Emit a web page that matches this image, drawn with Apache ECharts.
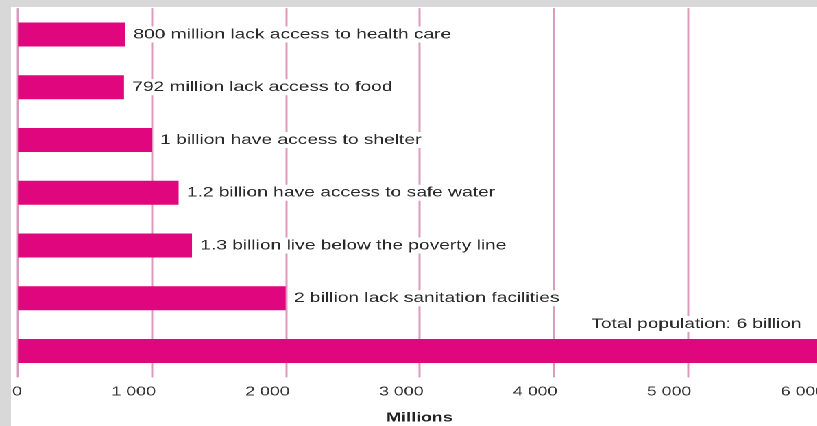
<!DOCTYPE html>
<html>
<head>
<meta charset="utf-8">
<script src="https://cdn.jsdelivr.net/npm/echarts@6/dist/echarts.min.js"></script>
<style>
  html, body { margin: 0; padding: 0; }
  body { width: 817px; height: 426px; background: #d8d8d8; overflow: hidden; position: relative; }
  /* the panel is drawn narrow and stretched sideways to get the wide lettering */
  #panel {
    position: absolute; left: 11px; top: 7px;
    width: 588px; height: 419px;
    background: #ffffff;
    transform: scaleX(1.371);
    transform-origin: 0 0;
  }
</style>
</head>
<body>
<div id="panel"></div>
<script>
// Categories (top to bottom) and their values in millions
const categories = [
  '800 million lack access to health care',
  '792 million lack access to food',
  '1 billion have access to shelter',
  '1.2 billion have access to safe water',
  '1.3 billion live below the poverty line',
  '2 billion lack sanitation facilities',
  'Total population: 6 billion'
];
const valuesMillions = [800, 792, 1000, 1200, 1300, 2000, 6000];
const tickLabels = ['0', '1 000', '2 000', '3 000', '4 000', '5 000', '6 000'];

const MAGENTA = '#e0067e';
const GRIDPINK = '#dc9bbd';

const chart = echarts.init(document.getElementById('panel'), null, { renderer: 'canvas', devicePixelRatio: 2 });

const lastIndex = valuesMillions.length - 1;
const seriesData = valuesMillions.map((v, i) => {
  const item = { value: v };
  if (i === lastIndex) {
    item.label = {
      position: ['97.9%', -15],
      align: 'right',
      verticalAlign: 'middle'
    };
  }
  return item;
});

chart.setOption({
  animation: false,
  textStyle: { fontFamily: 'Liberation Sans, Arial, Helvetica, sans-serif' },
  grid: {
    left: 5.1, top: 1.1, width: 585.8, bottom: 48.6,
    containLabel: false,
    outerBoundsMode: 'none'
  },
  xAxis: {
    type: 'value',
    min: 0,
    max: 6000,
    interval: 1000,
    name: 'Millions',
    nameLocation: 'middle',
    nameGap: 34,
    nameTextStyle: { fontSize: 13, fontWeight: 'bold', color: '#222' },
    axisLine: { show: false },
    axisTick: { show: false },
    splitLine: { show: true, lineStyle: { color: GRIDPINK, width: 1.5 } },
    axisLabel: {
      fontSize: 13,
      color: '#333',
      margin: 8,
      align: 'right',
      padding: [0, -3, 0, 0],
      formatter: (v) => tickLabels[Math.round(v / 1000)]
    }
  },
  yAxis: {
    type: 'category',
    inverse: true,
    data: categories,
    axisLine: { show: false },
    axisTick: { show: false },
    axisLabel: { show: false },
    splitLine: { show: false }
  },
  series: [{
    type: 'bar',
    barWidth: 24,
    data: seriesData,
    itemStyle: { color: MAGENTA },
    label: {
      show: true,
      position: 'right',
      distance: 4,
      fontSize: 14,
      color: '#2a2a2a',
      backgroundColor: '#ffffff',
      padding: [1, 2],
      formatter: (p) => categories[p.dataIndex]
    }
  }]
});
</script>
</body>
</html>
